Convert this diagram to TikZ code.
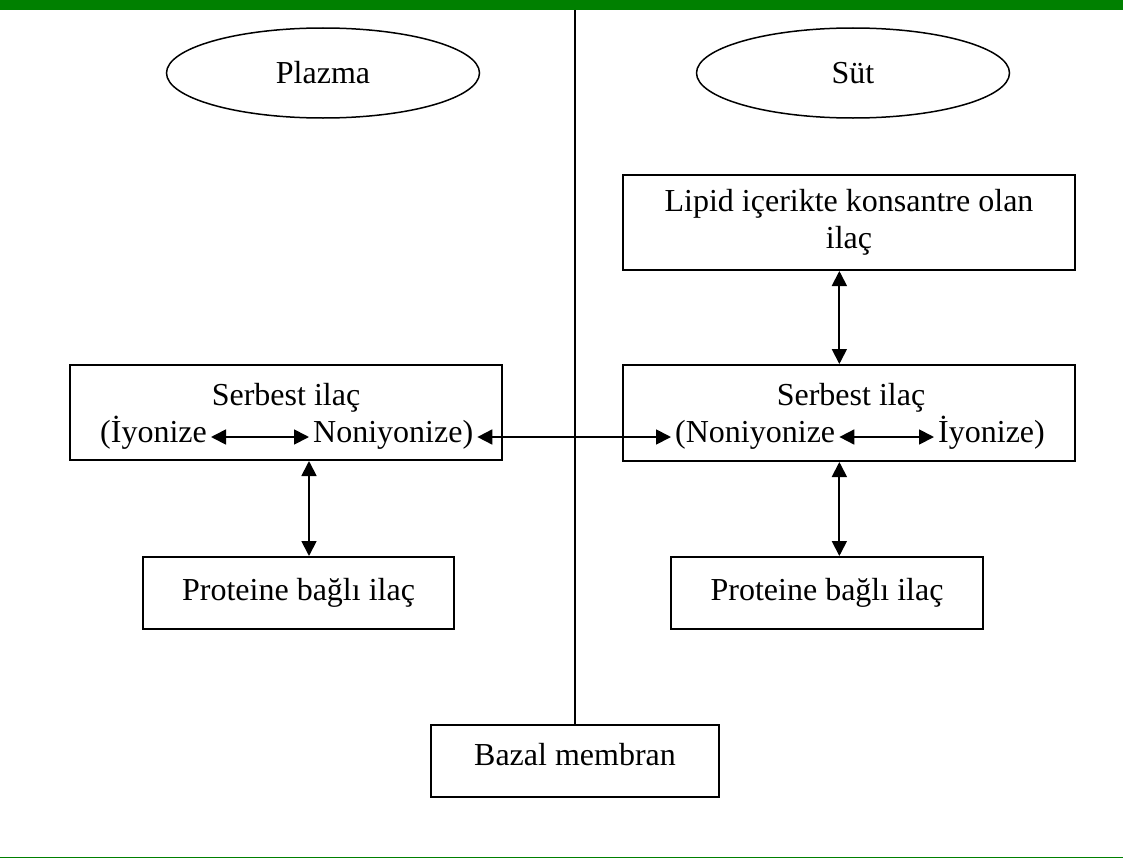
\documentclass[tikz,border=0pt]{standalone}
\usepackage{fontspec}
\setmainfont{Liberation Serif}
\usetikzlibrary{shapes.geometric,arrows.meta}
\definecolor{rulegreen}{RGB}{0,128,0}
\begin{document}
\begin{tikzpicture}[
    x=1pt, y=-1pt,
    font=\fontsize{32}{37}\selectfont,
    box/.style={rectangle, draw, line width=2pt, inner sep=0pt, align=center},
    oval/.style={ellipse, draw, line width=1.5pt, minimum width=313pt, minimum height=90pt, inner sep=0pt},
    txt/.style={inner sep=4pt, text height=17pt, text depth=7pt},
    link/.style={{Triangle[length=15pt,width=15pt]}-{Triangle[length=15pt,width=15pt]}, line width=1.8pt}
]
    \useasboundingbox (0,0) rectangle (1123,859);

    % Green rules
    \fill[rulegreen] (0,0) rectangle (1123,10);
    \draw[rulegreen, line width=1.5pt] (0,857.5) -- (1123,857.5);

    % Compartments
    \node[oval] (plazma) at (323,73) {Plazma};
    \node[oval] (sut) at (853,73) {Süt};

    % Boxes
    \node[box, minimum width=452pt, minimum height=95pt] (lipid) at (849,222.5) {Lipid içerikte konsantre olan\\ilaç};
    \node[box, minimum width=432pt, minimum height=95pt] (serbL) at (286,412.5) {};
    \node[box, minimum width=452pt, minimum height=96pt] (serbR) at (849,413) {};
    \node[box, minimum width=311pt, minimum height=72pt] (protL) at (298.5,593) {Proteine bağlı ilaç};
    \node[box, minimum width=312pt, minimum height=72pt] (protR) at (827,593) {Proteine bağlı ilaç};
    \node[box, minimum width=288pt, minimum height=72pt, text depth=13pt] (bazal) at (575,761) {Bazal membran};

    % Texts inside the free drug boxes
    \node[txt, anchor=base] (titleL) at (286,405) {Serbest ilaç};
    \node[txt, anchor=base] (titleR) at (851,405) {Serbest ilaç};
    \node[txt, anchor=base west] (iyonL) at (96,442) {(İyonize};
    \node[txt, anchor=base west] (noniyonL) at (309,442) {Noniyonize)};
    \node[txt, anchor=base west] (noniyonR) at (671,442) {(Noniyonize};
    \node[txt, anchor=base west] (iyonR) at (934,442) {İyonize)};

    % Membrane
    \coordinate (memtop) at (575,10);
    \draw[line width=2pt] (memtop) -- (bazal.north);

    % Connections
    \draw[link] (iyonL) -- (noniyonL);
    \draw[link] (noniyonR) -- (iyonR);
    \draw[link] (noniyonL) -- (noniyonR);
    \draw[link] (noniyonL.west |- serbL.south) -- (noniyonL.west |- protL.north);
    \draw[link] (noniyonR.east |- lipid.south) -- (noniyonR.east |- serbR.north);
    \draw[link] (noniyonR.east |- serbR.south) -- (noniyonR.east |- protR.north);
\end{tikzpicture}
\end{document}
